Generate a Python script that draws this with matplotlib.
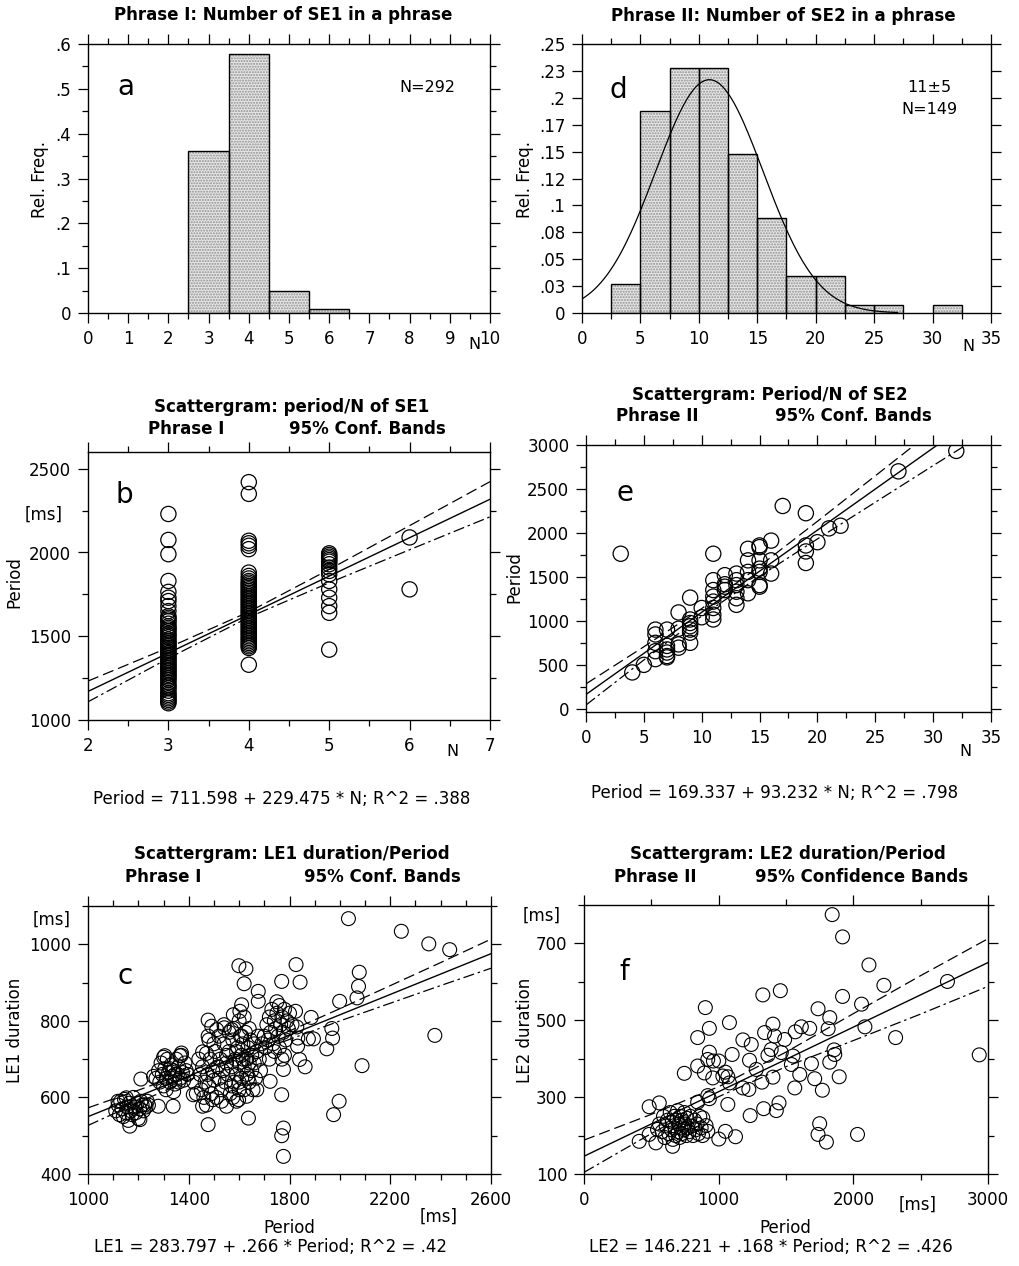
import numpy as np
import matplotlib
matplotlib.use("Agg")
import matplotlib.pyplot as plt
from matplotlib.ticker import MultipleLocator, FixedLocator

W, H = 1020, 1266

# ---- panel a: SE1 count histogram
a_n = [3, 4, 5, 6]
a_freq = [0.361, 0.578, 0.050, 0.009]
a_yticks = [0, 0.1, 0.2, 0.3, 0.4, 0.5, 0.6]
a_ylabels = ["0", ".1", ".2", ".3", ".4", ".5", ".6"]

# ---- panel d: SE2 count histogram
d_left = [2.5, 5, 7.5, 10, 12.5, 15, 17.5, 20, 22.5, 25, 30]
d_freq = [0.027, 0.188, 0.228, 0.228, 0.148, 0.088, 0.034, 0.034, 0.007, 0.007, 0.007]
d_bin = 2.5
d_mean, d_sd = 10.9, 4.6
d_yticks = [0, 0.025, 0.05, 0.075, 0.1, 0.125, 0.15, 0.175, 0.2, 0.225, 0.25]
d_ylabels = ["0", ".03", ".05", ".08", ".1", ".12", ".15", ".17", ".2", ".23", ".25"]

# ---- panel b: period vs N of SE1
b_n3 = [2230, 2075, 1990, 1830, 1765, 1730, 1710, 1680, 1650, 1620, 1610, 1600, 1590,
        1575, 1560, 1550, 1540, 1530, 1515, 1505, 1495, 1480, 1470, 1460, 1450, 1440,
        1430, 1420, 1410, 1400, 1390, 1380, 1370, 1360, 1350, 1340, 1330, 1320, 1310,
        1300, 1290, 1280, 1270, 1260, 1250, 1240, 1225, 1210, 1200, 1190, 1175, 1160,
        1150, 1140, 1130, 1120, 1110, 1100]
b_n4 = [2420, 2350, 2070, 2055, 2040, 2020, 1880, 1860, 1845, 1830, 1820, 1810, 1800,
        1790, 1780, 1770, 1760, 1750, 1740, 1730, 1720, 1710, 1700, 1690, 1680, 1670,
        1660, 1650, 1640, 1630, 1620, 1610, 1600, 1590, 1580, 1570, 1560, 1550, 1540,
        1530, 1520, 1510, 1500, 1490, 1480, 1470, 1460, 1450, 1440, 1430, 1330]
b_n5 = [1995, 1985, 1975, 1965, 1955, 1945, 1930, 1910, 1890, 1870, 1830, 1780, 1730,
        1680, 1640, 1420]
b_n6 = [2090, 1780]
b_coef = (711.598, 229.475)
b_band_x = [2, 3, 4, 5, 6, 7]
b_band_hw = [62, 32, 16, 40, 72, 105]

# ---- panel e: period vs N of SE2
e_n = [3, 4, 5, 6, 6, 6, 6, 6, 7, 7, 7, 7, 7, 7, 8, 8, 8, 8, 9, 9, 9, 9, 9, 9, 9,
       10, 10, 11, 11, 11, 11, 11, 11, 11, 11, 12, 12, 12, 12, 13, 13, 13, 13, 13, 13,
       14, 14, 14, 14, 14, 15, 15, 15, 15, 15, 15, 15, 16, 16, 16, 17, 19, 19, 19, 19,
       20, 21, 22, 27, 32]
e_period = [1766, 419, 505, 905, 850, 755, 660, 570, 905, 720, 680, 645, 605, 590,
            1100, 915, 737, 700, 1268, 1020, 980, 943, 905, 870, 755,
            1150, 1045, 1766, 1466, 1354, 1280, 1223, 1150, 1074, 1020, 1523, 1392, 1354, 1420,
            1541, 1466, 1410, 1335, 1261, 1186,
            1822, 1691, 1560, 1466, 1317, 1860, 1841, 1691, 1597, 1560, 1410, 1392,
            1915, 1691, 1541, 2308, 2226, 1860, 1792, 1661,
            1897, 2054, 2084, 2701, 2933]
e_coef = (169.337, 93.232)
e_band_x = [0, 5, 10, 15, 20, 25, 30, 35]
e_band_hw = [120, 75, 42, 58, 100, 150, 200, 255]

# ---- panel c: LE1 duration vs period
c_period = [2034, 2244, 2353, 2436, 2377, 2088, 2077, 2074, 2068, 1999, 1968, 1971, 1948,
            1895, 1875, 1886, 1862, 1840, 1832, 1833, 1829, 1824, 1826, 1842, 1769, 1776,
            1769, 1776, 1769, 1776, 1997, 1975, 1723, 1676, 1676, 1620, 1627, 1599, 1610,
            1603, 1577, 1637, 1477, 1477, 1477, 1455, 1491, 1511, 1541, 1570, 1418, 1455,
            1550, 1495, 1598, 1630, 1670, 1338, 1279, 1210, 1305, 1365, 1371, 1119, 1152,
            1166, 1206, 1225,
            1110, 1120, 1125, 1130, 1135, 1140, 1145, 1150, 1155, 1160, 1165, 1170, 1175,
            1180, 1185, 1190, 1195, 1200, 1205, 1210, 1215, 1220, 1230, 1235, 1240,
            1270, 1280, 1285, 1290, 1295, 1300, 1305, 1310, 1315, 1320, 1325, 1330, 1335,
            1340, 1345, 1350, 1355, 1360, 1365, 1370, 1375, 1380, 1385, 1390, 1310, 1340,
            1300, 1360, 1325, 1345, 1260, 1395,
            1420, 1430, 1440, 1445, 1450, 1455, 1460, 1465, 1470, 1475, 1480, 1485, 1490,
            1495, 1500, 1505, 1510, 1515, 1520, 1525, 1530, 1535, 1540, 1545, 1550, 1555,
            1560, 1565, 1570, 1575, 1580, 1585, 1590, 1595, 1600, 1600, 1605, 1610, 1610,
            1615, 1620, 1620, 1625, 1630, 1630, 1635, 1640, 1640, 1645, 1650, 1650, 1655,
            1660, 1660, 1665, 1670, 1675, 1680, 1685, 1690, 1560, 1580, 1540, 1600, 1620,
            1500, 1520, 1480, 1575, 1590, 1530, 1470, 1600, 1615, 1635, 1570, 1550, 1590,
            1610, 1640,
            1700, 1705, 1710, 1715, 1720, 1725, 1730, 1735, 1740, 1745, 1750, 1755, 1760,
            1765, 1770, 1775, 1780, 1785, 1790, 1795, 1800, 1810, 1740, 1760, 1780, 1720,
            1750, 1770]
c_le1 = [1067, 1034, 1001, 986, 762, 683, 927, 890, 860, 851, 780, 755, 727,
         753, 753, 809, 680, 699, 734, 755, 784, 825, 947, 901, 903, 673,
         607, 520, 500, 446, 590, 555, 642, 877, 851, 897, 936, 944, 842,
         825, 816, 546, 529, 802, 760, 719, 786, 777, 782, 777, 607, 577,
         577, 594, 594, 603, 620, 577, 577, 648, 709, 709, 716, 590, 599,
         525, 542, 581,
         565, 580, 555, 590, 570, 550, 595, 560, 575, 540, 585, 565, 555,
         600, 575, 560, 585, 545, 570, 590, 580, 565, 575, 590, 580,
         650, 670, 640, 690, 660, 630, 675, 650, 700, 665, 640, 685, 655,
         670, 635, 700, 660, 680, 650, 710, 665, 645, 690, 670, 620, 615,
         705, 640, 675, 660, 655, 660,
         640, 610, 700, 660, 620, 680, 600, 640, 715, 660, 630, 700, 610,
         670, 645, 720, 600, 680, 650, 700, 620, 670, 740, 640, 690, 660,
         720, 610, 680, 750, 640, 700, 660, 730, 620, 690, 760, 650, 710,
         740, 680, 620, 770, 700, 660, 730, 690, 640, 750, 710, 670, 620,
         740, 690, 650, 720, 760, 700, 670, 740, 770, 780, 790, 800, 810,
         740, 760, 750, 600, 590, 590, 580, 640, 700, 650, 630, 710, 720,
         760, 780,
         760, 730, 790, 750, 810, 770, 830, 740, 800, 780, 820, 760, 840,
         790, 810, 770, 830, 750, 800, 780, 820, 790, 720, 730, 710, 700,
         850, 700]
c_coef = (283.797, 0.266)
c_band_x = [1000, 1200, 1400, 1600, 1800, 2000, 2200, 2400, 2600]
c_band_hw = [23, 16, 11, 8, 11, 16, 23, 30, 38]
c_xticks = [1000, 1400, 1800, 2200, 2600]
c_yticks = [400, 600, 800, 1000]

# ---- panel f: LE2 duration vs period
f_period = [1843, 1920, 2116, 2227, 2699, 2935, 2314, 2086, 2061, 1920, 1825, 1813, 1738,
            1676, 1614, 1569, 1857, 1862, 1825, 1895, 1689, 1713, 1770, 1602, 1565, 1552,
            1540, 1490, 1465, 1403, 1415, 1390, 1366, 1341, 1328, 1458, 1403, 1448, 1428,
            1334, 1321, 1279, 1229, 1242, 1180, 1224, 1180, 1234, 1100, 1080, 1050, 1080,
            1068, 1031, 1001, 961, 931, 919, 901, 931, 844, 844, 894, 956, 919, 931, 844,
            745, 1068, 1750, 1738, 1800, 2031, 1125, 1050, 1001, 906, 919, 882, 484, 559,
            410, 484, 534, 546, 658,
            560, 580, 590, 600, 610, 620, 630, 640, 650, 655, 660, 670, 675, 680, 690,
            695, 700, 705, 710, 715, 720, 725, 730, 740, 745, 750, 760, 765, 770, 780,
            790, 800, 810, 820, 830, 840, 850, 860, 870, 880]
f_le2 = [775, 717, 644, 591, 601, 410, 455, 483, 542, 562, 507, 478, 530,
         479, 483, 470, 423, 411, 391, 353, 387, 348, 318, 359, 324, 407,
         385, 450, 416, 490, 459, 424, 409, 468, 566, 577, 352, 285, 265,
         270, 339, 372, 396, 437, 449, 320, 324, 252, 411, 494, 365, 337,
         353, 355, 394, 394, 417, 398, 533, 479, 455, 381, 363, 350, 304, 296, 287,
         362, 281, 231, 203, 183, 203, 197, 211, 191, 226, 211, 246, 275, 285,
         185, 203, 181, 216, 172,
         230, 210, 250, 195, 225, 240, 205, 260, 215, 235, 190, 250, 220, 200, 240,
         265, 210, 230, 195, 250, 220, 205, 240, 215, 260, 230, 200, 245, 220, 210,
         250, 225, 200, 240, 215, 230, 205, 250, 220, 200]
f_coef = (146.221, 0.168)
f_band_x = [0, 500, 1000, 1500, 2000, 2500, 3000]
f_band_hw = [42, 25, 13, 19, 35, 50, 62]
f_yticks = [100, 300, 500, 700]


def rect(l, t, r, b):
    return [l / W, 1 - b / H, (r - l) / W, (b - t) / H]


def ftext(x, y, s, **kw):
    kw.setdefault("ha", "center")
    kw.setdefault("va", "center")
    fig.text(x / W, 1 - y / H, s, **kw)


def style(ax):
    ax.tick_params(which="both", direction="out", top=True, right=True,
                   labelsize=12, width=0.9, pad=5)
    ax.tick_params(which="major", length=7)
    ax.tick_params(which="minor", length=4)
    for sp in ax.spines.values():
        sp.set_linewidth(1.0)


def hist_bars(ax, x, h, width, align):
    ax.bar(x, h, width=width, align=align, color="#e6e6e6", hatch="......",
           edgecolor="#909090", linewidth=0, zorder=2)
    ax.bar(x, h, width=width, align=align, fill=False, edgecolor="black",
           linewidth=1.0, zorder=3)


def reg(ax, coef, band_x, band_hw, x0, x1):
    xs = np.array([x0, x1])
    ax.plot(xs, coef[0] + coef[1] * xs, color="black", lw=1.0, zorder=4)
    bx = np.array(band_x, dtype=float)
    fit = coef[0] + coef[1] * bx
    hw = np.array(band_hw, dtype=float)
    ax.plot(bx, fit + hw, color="black", lw=0.9, ls=(0, (9, 4)), zorder=4)
    ax.plot(bx, fit - hw, color="black", lw=0.9, ls=(0, (9, 3, 2, 3)), zorder=4)


fig = plt.figure(figsize=(W / 100, H / 100), dpi=100)
plt.rcParams["font.family"] = ["DejaVu Sans"]

# ===== a
ax = fig.add_axes(rect(88, 44, 490, 313))
hist_bars(ax, a_n, a_freq, 1.0, "center")
ax.set_xlim(0, 10)
ax.set_ylim(0, 0.6)
ax.xaxis.set_major_locator(MultipleLocator(1))
ax.xaxis.set_minor_locator(MultipleLocator(0.5))
ax.yaxis.set_major_locator(FixedLocator(a_yticks))
ax.yaxis.set_minor_locator(MultipleLocator(0.05))
ax.set_yticklabels(a_ylabels)
style(ax)
ax.text(0.095, 0.84, "a", transform=ax.transAxes, fontsize=20, ha="center", va="center")
ax.text(0.845, 0.84, "N=292", transform=ax.transAxes, fontsize=11.5, ha="center", va="center")

# ===== d
ax = fig.add_axes(rect(582, 44, 991, 313))
hist_bars(ax, d_left, d_freq, d_bin, "edge")
xc = np.linspace(0, 27, 200)
yc = d_bin / (d_sd * np.sqrt(2 * np.pi)) * np.exp(-0.5 * ((xc - d_mean) / d_sd) ** 2)
ax.plot(xc, yc, color="black", lw=0.9, zorder=5)
ax.set_xlim(0, 35)
ax.set_ylim(0, 0.25)
ax.xaxis.set_major_locator(MultipleLocator(5))
ax.xaxis.set_minor_locator(MultipleLocator(2.5))
ax.yaxis.set_major_locator(FixedLocator(d_yticks))
ax.set_yticklabels(d_ylabels)
style(ax)
ax.text(0.088, 0.83, "d", transform=ax.transAxes, fontsize=20, ha="center", va="center")
ax.text(0.85, 0.84, "11±5", transform=ax.transAxes, fontsize=11.5, ha="center", va="center")
ax.text(0.85, 0.755, "N=149", transform=ax.transAxes, fontsize=11.5, ha="center", va="center")

# ===== b
ax = fig.add_axes(rect(88, 452, 490, 720))
bx = [3] * len(b_n3) + [4] * len(b_n4) + [5] * len(b_n5) + [6] * len(b_n6)
by = b_n3 + b_n4 + b_n5 + b_n6
ax.scatter(bx, by, s=120, facecolors="none", edgecolors="black", linewidths=0.9, zorder=3)
reg(ax, b_coef, b_band_x, b_band_hw, 2, 7)
ax.set_xlim(2, 7)
ax.set_ylim(1000, 2600)
ax.xaxis.set_major_locator(MultipleLocator(1))
ax.xaxis.set_minor_locator(MultipleLocator(0.5))
ax.yaxis.set_major_locator(MultipleLocator(500))
ax.yaxis.set_minor_locator(MultipleLocator(250))
style(ax)
ax.text(0.09, 0.84, "b", transform=ax.transAxes, fontsize=20, ha="center", va="center")

# ===== e
ax = fig.add_axes(rect(586, 445, 991, 712))
ax.scatter(e_n, e_period, s=120, facecolors="none", edgecolors="black", linewidths=0.9, zorder=3)
reg(ax, e_coef, e_band_x, e_band_hw, 0, 35)
ax.set_xlim(0, 35)
ax.set_ylim(-30, 3000)
ax.xaxis.set_major_locator(MultipleLocator(5))
ax.xaxis.set_minor_locator(MultipleLocator(2.5))
ax.yaxis.set_major_locator(MultipleLocator(500))
ax.yaxis.set_minor_locator(MultipleLocator(250))
style(ax)
ax.text(0.096, 0.82, "e", transform=ax.transAxes, fontsize=20, ha="center", va="center")

# ===== c
ax = fig.add_axes(rect(88, 906, 491, 1174))
ax.scatter(c_period, c_le1, s=100, facecolors="none", edgecolors="black", linewidths=0.8, zorder=3)
reg(ax, c_coef, c_band_x, c_band_hw, 1000, 2600)
ax.set_xlim(1000, 2600)
ax.set_ylim(400, 1100)
ax.xaxis.set_major_locator(FixedLocator(c_xticks))
ax.xaxis.set_minor_locator(MultipleLocator(100))
ax.yaxis.set_major_locator(FixedLocator(c_yticks))
ax.yaxis.set_minor_locator(MultipleLocator(100))
style(ax)
ax.text(0.092, 0.74, "c", transform=ax.transAxes, fontsize=20, ha="center", va="center")

# ===== f
ax = fig.add_axes(rect(584, 905, 988, 1174))
ax.scatter(f_period, f_le2, s=100, facecolors="none", edgecolors="black", linewidths=0.8, zorder=3)
reg(ax, f_coef, f_band_x, f_band_hw, 0, 3000)
ax.set_xlim(0, 3000)
ax.set_ylim(100, 800)
ax.xaxis.set_major_locator(MultipleLocator(1000))
ax.xaxis.set_minor_locator(MultipleLocator(500))
ax.yaxis.set_major_locator(FixedLocator(f_yticks))
ax.yaxis.set_minor_locator(MultipleLocator(100))
style(ax)
ax.text(0.1, 0.75, "f", transform=ax.transAxes, fontsize=20, ha="center", va="center")

# ===== titles and labels
tkw = dict(fontsize=12, fontweight="bold")
ftext(283, 15, "Phrase I: Number of SE1 in a phrase", **tkw)
ftext(783, 16, "Phrase II: Number of SE2 in a phrase", **tkw)
ftext(292, 407, "Scattergram: period/N of SE1", **tkw)
ftext(148, 429, "Phrase I", ha="left", **tkw)
ftext(446, 429, "95% Conf. Bands", ha="right", **tkw)
ftext(770, 395, "Scattergram: Period/N of SE2", **tkw)
ftext(616, 416, "Phrase II", ha="left", **tkw)
ftext(932, 416, "95% Conf. Bands", ha="right", **tkw)
ftext(292, 854, "Scattergram: LE1 duration/Period", **tkw)
ftext(125, 877, "Phrase I", ha="left", **tkw)
ftext(461, 877, "95% Conf. Bands", ha="right", **tkw)
ftext(788, 854, "Scattergram: LE2 duration/Period", **tkw)
ftext(614, 877, "Phrase II", ha="left", **tkw)
ftext(968, 877, "95% Confidence Bands", ha="right", **tkw)

lkw = dict(fontsize=12, rotation=90)
ftext(40, 180, "Rel. Freq.", **lkw)
ftext(525, 180, "Rel. Freq.", **lkw)
ftext(14, 582, "Period", **lkw)
ftext(514, 577, "Period", **lkw)
ftext(15, 1030, "LE1 duration", **lkw)
ftext(525, 1030, "LE2 duration", **lkw)

ftext(474, 344, "N", fontsize=11.5)
ftext(968, 347, "N", fontsize=11.5)
ftext(452, 752, "N", fontsize=11.5)
ftext(965, 752, "N", fontsize=11.5)
ftext(44, 515, "[ms]", fontsize=12)
ftext(52, 920, "[ms]", fontsize=12)
ftext(542, 916, "[ms]", fontsize=12)
ftext(439, 1217, "[ms]", fontsize=12)
ftext(918, 1205, "[ms]", fontsize=12)
ftext(289, 1228, "Period", fontsize=12)
ftext(785, 1228, "Period", fontsize=12)

ekw = dict(fontsize=12)
ftext(282, 799, "Period = 711.598 + 229.475 * N; R^2 = .388", **ekw)
ftext(775, 793, "Period = 169.337 + 93.232 * N; R^2 = .798", **ekw)
ftext(270, 1247, "LE1 = 283.797 + .266 * Period; R^2 = .42", **ekw)
ftext(771, 1247, "LE2 = 146.221 + .168 * Period; R^2 = .426", **ekw)

fig.savefig("out.png", dpi=100, facecolor="white")
